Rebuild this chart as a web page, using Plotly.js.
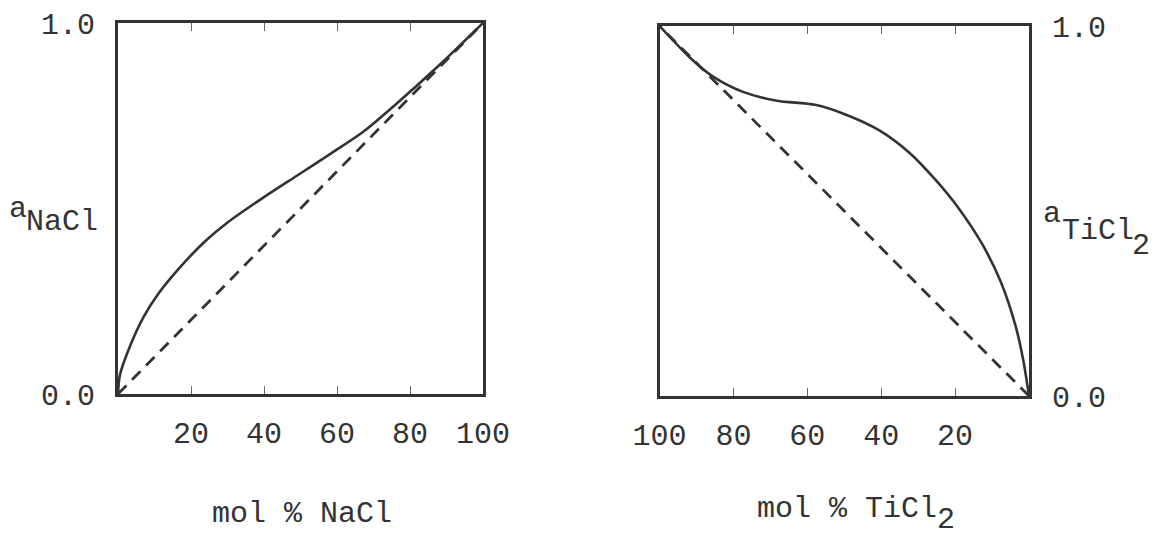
<!DOCTYPE html>
<html>
<head>
<meta charset="utf-8">
<script src="https://cdn.plot.ly/plotly-3.0.1.min.js"></script>
<style>
  html, body { margin: 0; padding: 0; background: #ffffff; }
  #chart { width: 1174px; height: 542px; }
</style>
</head>
<body>
<div id="chart"></div>
<script>
// ---- data ----
const naclMolPct = [0, 0.5, 2.6, 6.9, 11.1, 17.4, 23.8, 30.1, 39.6, 49.1, 58.6, 67.1, 76.6, 88.2, 100];
const naclActivity = [0, 0.05, 0.112, 0.206, 0.271, 0.346, 0.411, 0.463, 0.528, 0.589, 0.650, 0.706, 0.785, 0.888, 1.0];

const ticl2MolPct = [100, 91.8, 85.6, 77.4, 68.2, 57.9, 49.7, 40.5, 32.3, 25.1, 19.0, 12.8, 7.7, 3.6, 1.5, 0];
const ticl2Activity = [1.0, 0.915, 0.864, 0.822, 0.798, 0.787, 0.761, 0.718, 0.657, 0.582, 0.507, 0.413, 0.310, 0.188, 0.094, 0];

const idealMolPct = [0, 100];
const idealActivity = [0, 1];

const xTickVals = [20, 40, 60, 80, 100];
const yTickVals = [0, 1];
const yTickText = ['0.0', '1.0'];

// ---- styling ----
const W = 1174, H = 542;
const ink = '#333333';
const font = 'Liberation Mono, Courier New, monospace';
const px = v => v / W;
const py = v => 1 - v / H;

const solid = { color: ink, width: 2.6, shape: 'spline', smoothing: 0.8 };
const dashed = { color: ink, width: 2.8, dash: '12px,8px' };

const traces = [
  { x: idealMolPct, y: idealActivity, xaxis: 'x', yaxis: 'y', mode: 'lines', line: dashed, hoverinfo: 'skip' },
  { x: naclMolPct, y: naclActivity, xaxis: 'x', yaxis: 'y', mode: 'lines', line: solid },
  { x: idealMolPct, y: idealActivity, xaxis: 'x2', yaxis: 'y2', mode: 'lines', line: dashed, hoverinfo: 'skip' },
  { x: ticl2MolPct, y: ticl2Activity, xaxis: 'x2', yaxis: 'y2', mode: 'lines', line: solid }
];

const xBase = {
  tickvals: xTickVals, ticks: 'inside', ticklen: 8, tickwidth: 1, tickcolor: '#666',
  showline: true, linewidth: 3, linecolor: ink, mirror: 'allticks',
  showgrid: false, zeroline: false, ticklabelstandoff: 10,
  tickfont: { family: font, size: 30, color: ink }, fixedrange: true
};
const yBase = {
  range: [0, 1], tickvals: yTickVals, ticktext: yTickText, ticks: '',
  showline: true, linewidth: 3, linecolor: ink, mirror: true,
  showgrid: false, zeroline: false, ticklabelstandoff: 14,
  tickfont: { family: font, size: 30, color: ink }, fixedrange: true
};

function ann(text, x, y, size) {
  return { text: text, x: px(x), y: py(y), xref: 'paper', yref: 'paper',
           xanchor: 'center', yanchor: 'middle', showarrow: false,
           font: { family: font, size: size || 30, color: ink } };
}

const layout = {
  width: W, height: H,
  margin: { l: 0, r: 0, t: 0, b: 0 },
  paper_bgcolor: '#ffffff', plot_bgcolor: '#ffffff',
  showlegend: false,
  xaxis: Object.assign({}, xBase, { domain: [px(118), px(483)], range: [0, 100], anchor: 'y' }),
  yaxis: Object.assign({}, yBase, { domain: [py(394), py(23)], anchor: 'x', side: 'left' }),
  xaxis2: Object.assign({}, xBase, { domain: [px(659.5), px(1029)], range: [100, 0], anchor: 'y2' }),
  yaxis2: Object.assign({}, yBase, { domain: [py(396), py(26)], anchor: 'x2', side: 'right' }),
  annotations: [
    ann('a', 18, 209),
    ann('NaCl', 62, 222),
    ann('a', 1052, 214),
    ann('TiCl', 1098, 231),
    ann('2', 1141, 246),
    ann('mol % NaCl', 302, 514),
    ann('mol % TiCl', 847, 509),
    ann('2', 946, 520)
  ]
};

Plotly.newPlot('chart', traces, layout, { displayModeBar: false, staticPlot: true });
</script>
</body>
</html>
